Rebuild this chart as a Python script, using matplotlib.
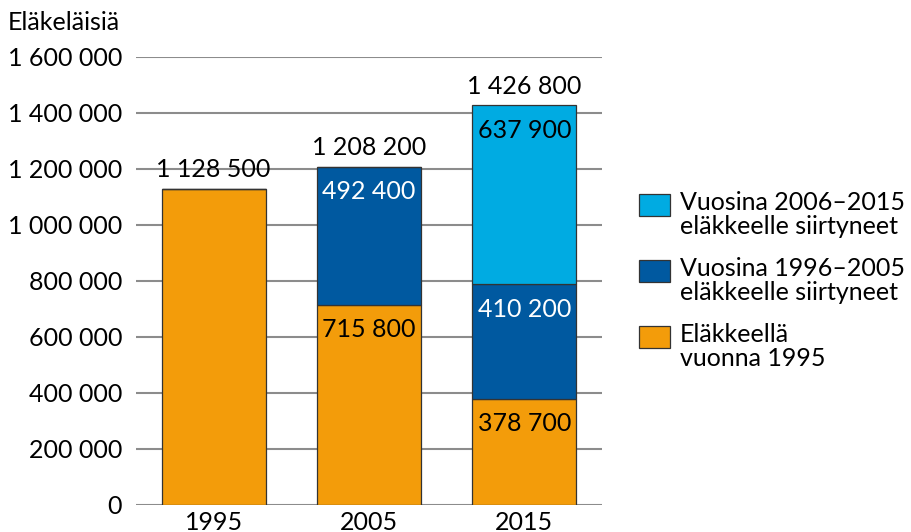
import matplotlib
matplotlib.use('Agg')
import matplotlib.pyplot as plt
from matplotlib.patches import Rectangle

plt.rcParams['font.family'] = ['Lato', 'DejaVu Sans']

years = ['1995', '2005', '2015']
retired_1995 = [1128500, 715800, 378700]
retired_1996_2005 = [0, 492400, 410200]
retired_2006_2015 = [0, 0, 637900]
totals = [1128500, 1208200, 1426800]
yticks = [0, 200000, 400000, 600000, 800000, 1000000, 1200000, 1400000, 1600000]

c_orange = '#F39C0A'
c_dark = '#0059A0'
c_light = '#00ABE2'

def fmt(v):
    return '{:,}'.format(v).replace(',', ' ')

fig = plt.figure(figsize=(9.11, 5.32), dpi=100)
ax = fig.add_axes([0.1493, 0.0508, 0.5115, 0.8421])

x = range(len(years))
w = 0.67
bottom2 = retired_1995
bottom3 = [a + b for a, b in zip(retired_1995, retired_1996_2005)]
ax.bar(x, retired_1995, w, color=c_orange, edgecolor='#333333', linewidth=0.9, zorder=3)
ax.bar(x, retired_1996_2005, w, bottom=bottom2, color=c_dark, edgecolor='#333333', linewidth=0.9, zorder=3)
ax.bar(x, retired_2006_2015, w, bottom=bottom3, color=c_light, edgecolor='#333333', linewidth=0.9, zorder=3)

fs = 18
# totals above bars
for i, t in enumerate(totals):
    ax.annotate(fmt(t), (i, t), xytext=(0, 14), textcoords='offset points',
                ha='center', va='center', fontsize=fs, color='black')

# segment values
for i in range(len(years)):
    segs = [(retired_1995[i], 0, 'black'),
            (retired_1996_2005[i], bottom2[i], 'white'),
            (retired_2006_2015[i], bottom3[i], 'black')]
    if i == 0:
        continue
    for val, b, col in segs:
        if val > 0:
            ax.annotate(fmt(val), (i, b + val), xytext=(0, -18), textcoords='offset points',
                        ha='center', va='center', fontsize=fs, color=col, zorder=4)

ax.set_xlim(-0.5, 2.5)
ax.set_ylim(0, 1600000)
ax.set_xticks(list(x))
ax.set_xticklabels(years, fontsize=fs)
ax.set_yticks(yticks)
ax.set_yticklabels([fmt(v) for v in yticks], fontsize=fs)
ax.tick_params(axis='both', length=0)
ax.tick_params(axis='y', pad=10)
ax.tick_params(axis='x', pad=4)
ax.grid(axis='y', color='#8c8c8c', linewidth=1.5, zorder=0)
for s in ax.spines.values():
    s.set_visible(False)

fig.text(8 / 911, 1 - 22 / 532, 'Eläkeläisiä', fontsize=fs, ha='left', va='center')

# legend drawn by hand
leg = [(c_light, 194, 'Vuosina 2006–2015\neläkkeelle siirtyneet'),
       (c_dark, 260, 'Vuosina 1996–2005\neläkkeelle siirtyneet'),
       (c_orange, 326, 'Eläkkeellä\nvuonna 1995')]
for col, ytop, lab in leg:
    fig.patches.append(Rectangle((639 / 911, 1 - (ytop + 22) / 532), 31 / 911, 22 / 532,
                                 transform=fig.transFigure, facecolor=col,
                                 edgecolor='#333333', linewidth=0.9))
    fig.text(680 / 911, 1 - (ytop - 3) / 532, lab, fontsize=fs, ha='left', va='top',
             linespacing=1.05)

fig.savefig('out.png', dpi=100)
